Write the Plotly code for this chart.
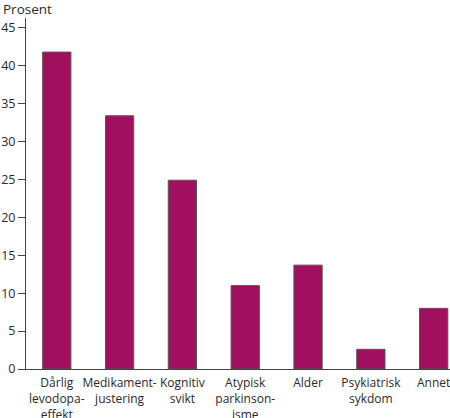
import plotly.graph_objects as go

# Årsaker, prosent
kategorier = [
    "Dårlig<br>levodopa-<br>effekt",
    "Medikament-<br>justering",
    "Kognitiv<br>svikt",
    "Atypisk<br>parkinson-<br>isme",
    "Alder",
    "Psykiatrisk<br>sykdom",
    "Annet",
]
prosent = [41.8, 33.4, 24.9, 11.0, 13.7, 2.6, 8.0]
y_ticks = [0, 5, 10, 15, 20, 25, 30, 35, 40, 45]

fig = go.Figure()

fig.add_trace(
    go.Bar(
        x=kategorier,
        y=prosent,
        width=0.45,
        marker=dict(color="#A0105F", line=dict(color="#555555", width=1)),
        hoverinfo="y",
    )
)

fig.update_layout(
    width=450,
    height=418,
    margin=dict(l=26, r=0, t=18, b=49),
    plot_bgcolor="white",
    paper_bgcolor="white",
    showlegend=False,
    font=dict(family="Open Sans, Liberation Sans, sans-serif", size=12, color="#2a2a2a"),
)

# y-akse tittel oppe til venstre
fig.add_annotation(
    text="Prosent",
    xref="paper",
    yref="paper",
    x=-25 / 424,
    y=1 + 20 / 351,
    xanchor="left",
    yanchor="top",
    showarrow=False,
    font=dict(size=13.5),
)

# usynlige ticks skyver kategoritekstene litt ned
fig.update_xaxes(
    type="category",
    range=[-0.49, 6.26],
    showline=True,
    linecolor="#444444",
    linewidth=1,
    ticks="outside",
    ticklen=3,
    tickcolor="rgba(0,0,0,0)",
    showgrid=False,
    zeroline=False,
    tickangle=0,
    ticklabeloverflow="allow",
    automargin=False,
)

fig.update_yaxes(
    range=[0, 46.3],
    tickmode="array",
    tickvals=y_ticks,
    showline=True,
    linecolor="#444444",
    linewidth=1,
    ticks="outside",
    ticklen=7,
    tickcolor="#444444",
    showgrid=False,
    zeroline=False,
    tickfont=dict(size=12.5),
    automargin=False,
)

# siden har 8px marg som standard; fjern den
fig.write_html(
    "out.html",
    config={"displayModeBar": False},
    post_script="document.body.style.margin='0';",
)
